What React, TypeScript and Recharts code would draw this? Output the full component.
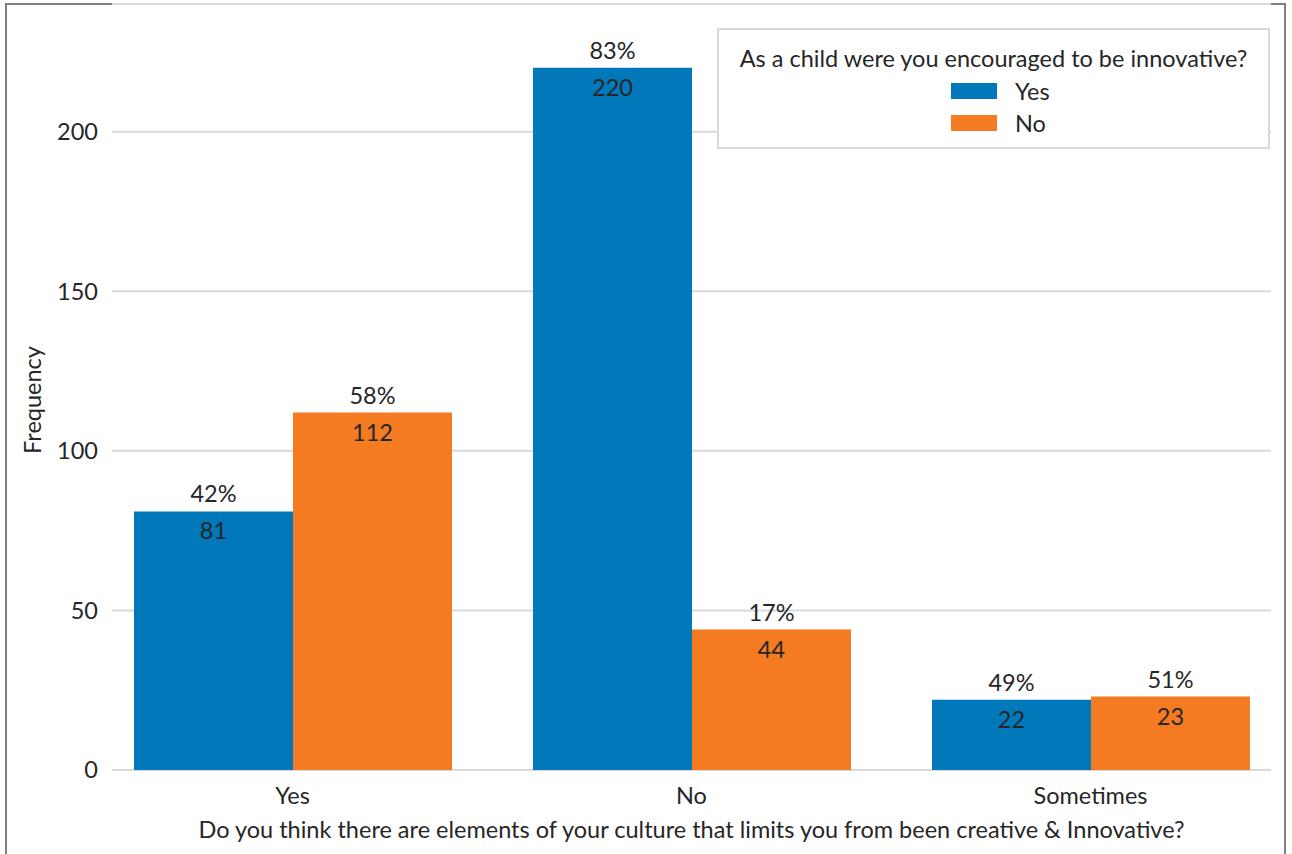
import React from 'react';
import { BarChart, Bar, XAxis, YAxis, CartesianGrid, LabelList } from 'recharts';

const categories = ['Yes', 'No', 'Sometimes'];
const yesValues = [81, 220, 22];
const noValues = [112, 44, 23];
const yesPct = ['42%', '83%', '49%'];
const noPct = ['58%', '17%', '51%'];
const yTicks = [0, 50, 100, 150, 200];
const legendTitle = 'As a child were you encouraged to be innovative?';
const seriesNames = ['Yes', 'No'];

const data = categories.map((c, i) => ({
  name: c,
  yes: yesValues[i],
  no: noValues[i],
}));

const BLUE = '#0078BA';
const ORANGE = '#F47B22';
const TEXT = '#262626';
const FONT = 'Lato, "Open Sans", sans-serif';
const FS = 23.5;

const makeLabel = (pcts: string[]) => (props: any) => {
  const { x, y, width, value, index } = props;
  const cx = x + width / 2;
  return (
    <g>
      <text x={cx} y={y - 9} textAnchor="middle" fill={TEXT} fontSize={FS} fontFamily={FONT}>
        {pcts[index]}
      </text>
      <text x={cx} y={y + 28} textAnchor="middle" fill={TEXT} fontSize={FS} fontFamily={FONT}>
        {value}
      </text>
    </g>
  );
};

const LegendBox = () => (
  <div
    style={{
      position: 'absolute',
      left: 717,
      top: 28,
      width: 553,
      height: 121,
      boxSizing: 'border-box',
      border: '2px solid #d9d9d9',
      background: '#fff',
      fontFamily: FONT,
      color: TEXT,
      fontSize: FS,
    }}
  >
    <div style={{ position: 'absolute', left: 0, right: 0, top: 14, textAlign: 'center', lineHeight: '28px' }}>
      {legendTitle}
    </div>
    {seriesNames.map((label, i) => (
      <div key={label}>
        <div
          style={{
            position: 'absolute',
            left: 232,
            top: 53 + i * 32,
            width: 46,
            height: 16,
            background: i === 0 ? BLUE : ORANGE,
          }}
        />
        <div style={{ position: 'absolute', left: 296, top: 47 + i * 32, lineHeight: '28px' }}>{label}</div>
      </div>
    ))}
  </div>
);

export default function App() {
  return (
    <div style={{ position: 'absolute', left: 0, top: 0, width: 1292, height: 854, overflow: 'hidden', background: '#fff' }}>
      <div
        style={{
          position: 'absolute',
          left: 5,
          top: 3,
          width: 1281,
          height: 900,
          border: '2px solid #808080',
          boxSizing: 'border-box',
        }}
      />
      <div style={{ position: 'absolute', left: 0, top: 0 }}>
        <BarChart
          width={1292}
          height={854}
          data={data}
          margin={{ top: 4, right: 21, bottom: 0, left: 0 }}
          barGap={0}
          barCategoryGap={41}
        >
          <CartesianGrid vertical={false} stroke="#d9d9d9" strokeWidth={2} />
          <XAxis
            dataKey="name"
            height={84}
            padding={{ left: -19, right: -19 }}
            axisLine={false}
            tickLine={false}
            tickSize={0}
            tickMargin={17}
            tick={{ fill: TEXT, fontSize: FS, fontFamily: FONT }}
            label={() => (
              <text x={691.5} y={838} textAnchor="middle" fill={TEXT} fontSize={FS} fontFamily={FONT}>
                Do you think there are elements of your culture that limits you from been creative &amp; Innovative?
              </text>
            )}
          />
          <YAxis
            width={112}
            domain={[0, 240]}
            ticks={yTicks}
            axisLine={false}
            tickLine={false}
            tickSize={0}
            tickMargin={14}
            tick={{ fill: TEXT, fontSize: FS, fontFamily: FONT }}
            label={() => (
              <text
                x={41}
                y={400}
                textAnchor="middle"
                fill={TEXT}
                fontSize={FS}
                fontFamily={FONT}
                transform="rotate(-90 41 400)"
              >
                Frequency
              </text>
            )}
          />
          <Bar dataKey="yes" name={seriesNames[0]} fill={BLUE} isAnimationActive={false}>
            <LabelList dataKey="yes" content={makeLabel(yesPct)} />
          </Bar>
          <Bar dataKey="no" name={seriesNames[1]} fill={ORANGE} isAnimationActive={false}>
            <LabelList dataKey="no" content={makeLabel(noPct)} />
          </Bar>
        </BarChart>
      </div>
      <LegendBox />
    </div>
  );
}
